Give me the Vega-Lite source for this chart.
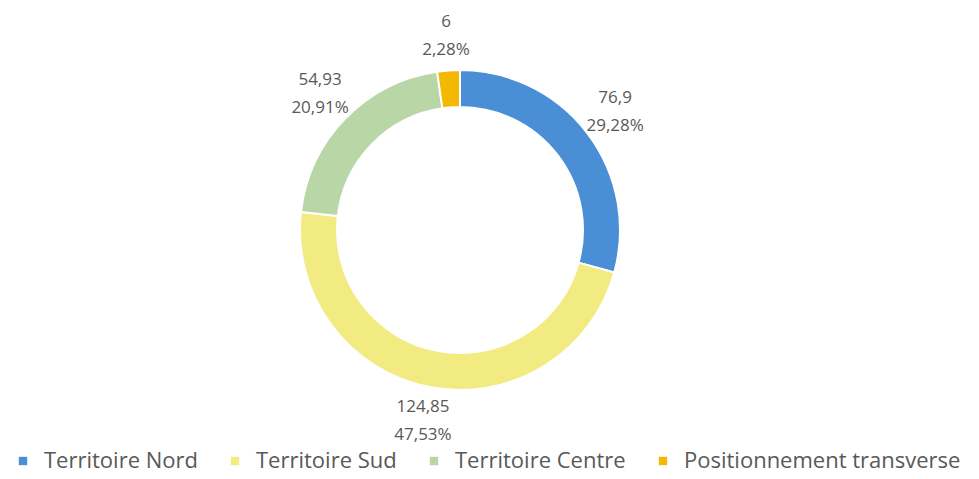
{
  "$schema": "https://vega.github.io/schema/vega-lite/v6.json",
  "width": 920,
  "height": 460,
  "padding": {"left": 0, "top": 0, "right": 59, "bottom": 19},
  "autosize": {"type": "none"},
  "background": "white",
  "data": {
    "values": [
      {"territoire": "Territoire Nord", "valeur": 76.9, "valeur_txt": "76,9", "part": "29,28%", "rang": 1},
      {"territoire": "Territoire Sud", "valeur": 124.85, "valeur_txt": "124,85", "part": "47,53%", "rang": 2},
      {"territoire": "Territoire Centre", "valeur": 54.93, "valeur_txt": "54,93", "part": "20,91%", "rang": 3},
      {"territoire": "Positionnement transverse", "valeur": 6, "valeur_txt": "6", "part": "2,28%", "rang": 4}
    ]
  },
  "encoding": {
    "theta": {"field": "valeur", "type": "quantitative", "stack": true},
    "order": {"field": "rang", "type": "quantitative"},
    "color": {
      "field": "territoire",
      "type": "nominal",
      "sort": ["Territoire Nord", "Territoire Sud", "Territoire Centre", "Positionnement transverse"],
      "scale": {
        "domain": ["Territoire Nord", "Territoire Sud", "Territoire Centre", "Positionnement transverse"],
        "range": ["#4a8fd6", "#f1eb82", "#b9d7a6", "#f4b800"]
      },
      "legend": {
        "title": null,
        "orient": "none",
        "direction": "horizontal",
        "columns": 4,
        "legendX": 12,
        "legendY": 450,
        "symbolType": "square",
        "symbolSize": 70,
        "symbolStrokeWidth": 0,
        "labelFont": "Open Sans",
        "labelFontSize": 22,
        "labelColor": "#595959",
        "columnPadding": 26,
        "labelOffset": 10,
        "labelLimit": 400
      }
    }
  },
  "layer": [
    {
      "mark": {"type": "arc", "outerRadius": 160, "innerRadius": 123, "stroke": "white", "strokeWidth": 2}
    },
    {
      "mark": {"type": "text", "radius": 195, "font": "Open Sans", "fontSize": 17, "dy": -14},
      "encoding": {
        "text": {"field": "valeur_txt"},
        "color": {"value": "#595959"}
      }
    },
    {
      "mark": {"type": "text", "radius": 195, "font": "Open Sans", "fontSize": 17, "dy": 14},
      "encoding": {
        "text": {"field": "part"},
        "color": {"value": "#595959"}
      }
    }
  ],
  "config": {"view": {"stroke": null}}
}
